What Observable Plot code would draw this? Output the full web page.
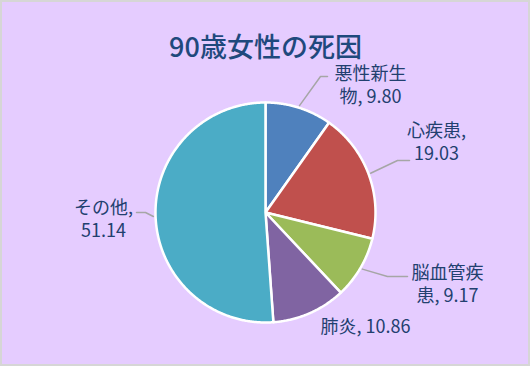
<!DOCTYPE html>
<html><head><meta charset="utf-8">
<script src="https://cdn.jsdelivr.net/npm/d3@7"></script>
<script src="https://cdn.jsdelivr.net/npm/@observablehq/plot@0.6"></script>
<style>
html,body{margin:0;padding:0;background:#fff;}
#chart{width:530px;height:366px;box-sizing:border-box;border:2px solid #d6d6d6;background:#E5CCFF;overflow:hidden;}
#chart svg{display:block;}
</style></head><body><div id="chart"></div>
<script>
// ---- data ----
const title = "90歳女性の死因";
const categories = ["悪性新生物", "心疾患", "脳血管疾患", "肺炎", "その他"];
const values = [9.80, 19.03, 9.17, 10.86, 51.14];
const colors = ["#4F81BD", "#C0504D", "#9BBB59", "#8064A2", "#4BACC6"];
const labelBreaks = [4, 4, 4, null, 4];

// ---- layout (pixels) ----
const W = 526, H = 362, R = 110, cx = 263, cy = 210;
// label centre offsets and leader elbow/end offsets, relative to pie centre (y down)
const labelLayout = [
  {tx: 105, ty: -128, leader: [[55, -136], [62, -136]]},
  {tx: 171, ty: -71, leader: [[132, -52], [144, -52]]},
  {tx: 182, ty: 71, leader: [[122, 64], [142, 64]]},
  {tx: 100, ty: 113, leader: null},
  {tx: -162, ty: 6, leader: [[-120, 0], [-129, 0]]}
];

const rows = categories.map((c, i) => ({category: c, value: values[i], color: colors[i], i}));
const arcs = d3.pie().sort(null).value(d => d.value)(rows);

const u = p => p / R; // pixel offset -> data units
const slicePolys = arcs.map(a => {
  const pts = [{x: 0, y: 0}];
  const n = Math.max(2, Math.ceil((a.endAngle - a.startAngle) / (Math.PI / 360)));
  for (let k = 0; k <= n; k++) {
    const t = a.startAngle + (a.endAngle - a.startAngle) * k / n;
    pts.push({x: Math.sin(t), y: Math.cos(t)});
  }
  pts.push({x: 0, y: 0});
  return {color: a.data.color, pts};
});

const labels = arcs.map((a, i) => {
  const s = `${a.data.category}, ${a.data.value.toFixed(2)}`;
  const b = labelBreaks[i];
  const text = b == null ? s : s.slice(0, b) + "\n" + s.slice(b).trim();
  const L = labelLayout[i];
  return {text, x: u(L.tx), y: -u(L.ty)};
});

const leaders = [];
arcs.forEach((a, i) => {
  const L = labelLayout[i];
  if (!L.leader) return;
  const mid = (a.startAngle + a.endAngle) / 2;
  const r0 = 1.02;
  leaders.push({id: i, x: r0 * Math.sin(mid), y: r0 * Math.cos(mid)});
  L.leader.forEach(([dx, dy]) => leaders.push({id: i, x: u(dx), y: -u(dy)}));
});

const font = "'Noto Sans CJK JP', 'Noto Sans', sans-serif";

const plot = Plot.plot({
  width: W, height: H, margin: 0,
  x: {domain: [-cx / R, (W - cx) / R], axis: null},
  y: {domain: [-(H - cy) / R, cy / R], axis: null},
  style: {background: "transparent"},
  marks: [
    ...slicePolys.map(s => Plot.line(s.pts, {x: "x", y: "y", fill: s.color, stroke: "white", strokeWidth: 2.5, strokeLinejoin: "round", curve: "linear"})),
    Plot.line(leaders, {x: "x", y: "y", z: "id", stroke: "#A6A6A6", strokeWidth: 1.5, curve: "linear"}),
    Plot.text(labels, {x: "x", y: "y", text: "text", fill: "#22406F", fontSize: 18, lineHeight: 1.27, fontFamily: font, textAnchor: "middle"}),
    Plot.text([title], {frameAnchor: "top", dy: 35, text: d => d, fill: "#1F497D", fontSize: 27, fontWeight: 500, fontFamily: font})
  ]
});
document.getElementById("chart").appendChild(plot);
</script>
</body></html>
